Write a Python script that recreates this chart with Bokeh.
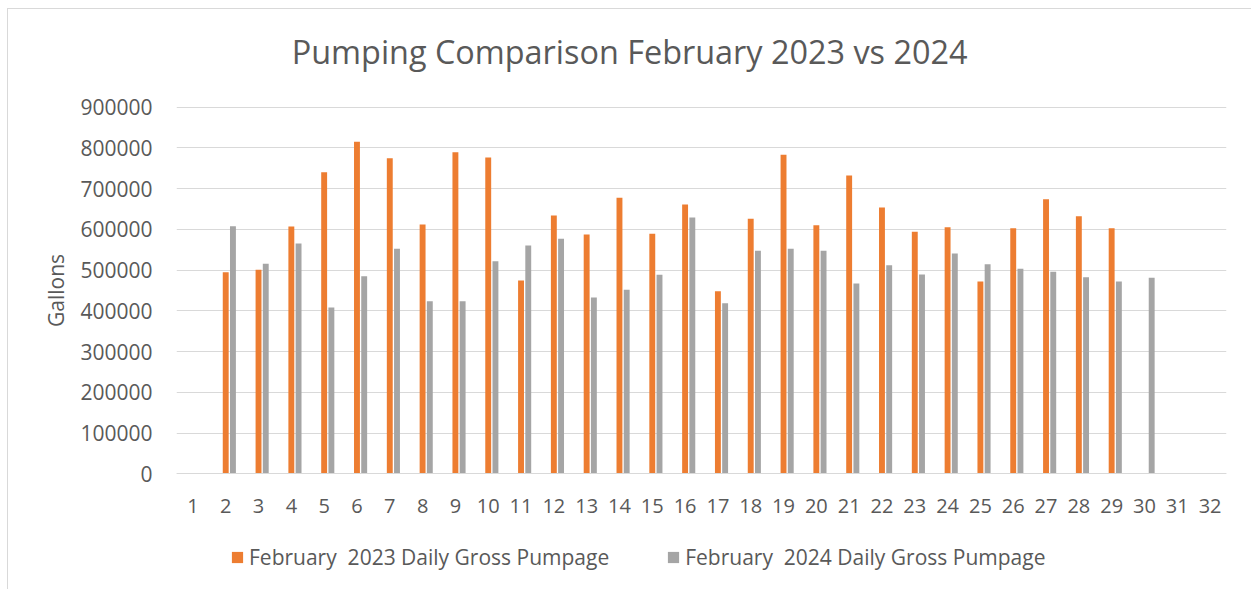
from bokeh.plotting import figure
from bokeh.models import (Range1d, FixedTicker, BasicTickFormatter, Label,
                          Legend, LegendItem, ColumnDataSource)
from bokeh.transform import dodge
from bokeh.embed import file_html
from bokeh.resources import INLINE

# ---------------- data ----------------
day_ticks = list(range(1, 33))
days_2023 = list(range(2, 30))
pump_2023 = [495000, 500700, 607000, 740500, 815000, 774800, 612000, 789500, 776500,
             474500, 634100, 587500, 677500, 589100, 661100, 448400, 625900, 783000,
             610400, 732300, 653700, 594000, 605500, 472100, 603000, 674200, 632500,
             603000]
days_2024 = list(range(2, 31))
pump_2024 = [608000, 515500, 565400, 408300, 485200, 552300, 423800, 423800, 522000,
             560500, 576800, 432800, 451600, 488500, 629200, 418900, 547400, 552300,
             547400, 467200, 512200, 489300, 540800, 514600, 503200, 495800, 482700,
             472100, 481100]
y_ticks = [0, 100000, 200000, 300000, 400000, 500000, 600000, 700000, 800000, 900000]

title_text = "Pumping Comparison February 2023 vs 2024"
label_2023 = "February  2023 Daily Gross Pumpage"
label_2024 = "February  2024 Daily Gross Pumpage"

ORANGE = "#ED7D31"
GRAY = "#A5A5A5"
TEXT = "#595959"
GRID = "#D9D9D9"
FONT = "Open Sans"

src23 = ColumnDataSource(dict(day=days_2023, value=pump_2023))
src24 = ColumnDataSource(dict(day=days_2024, value=pump_2024))

# frame spans the whole chart height so that title and legend sit inside it
p = figure(width=1244, height=581, output_backend="svg", toolbar_location=None,
           x_range=Range1d(0.5, 32.5), y_range=Range1d(-237400, 1137400),
           min_border_left=168, min_border_right=26, min_border_top=1,
           min_border_bottom=20)
p.styles = {"margin-left": "7px", "margin-top": "8px",
            "border-left": "1px solid #D9D9D9", "border-top": "1px solid #D9D9D9"}
p.outline_line_color = None
p.background_fill_color = "white"
p.border_fill_color = "white"

r23 = p.vbar(x=dodge("day", 0.0, range=p.x_range), top="value", width=0.18,
             source=src23, fill_color=ORANGE, line_color=None)
r24 = p.vbar(x=dodge("day", 0.22, range=p.x_range), top="value", width=0.18,
             source=src24, fill_color=GRAY, line_color=None)

# axes
p.xaxis.fixed_location = 0
p.xaxis.ticker = FixedTicker(ticks=day_ticks)
p.yaxis.ticker = FixedTicker(ticks=y_ticks)
p.yaxis.formatter = BasicTickFormatter(use_scientific=False)
for ax in (p.xaxis[0], p.yaxis[0]):
    ax.major_tick_line_color = None
    ax.minor_tick_line_color = None
    ax.major_label_text_font = FONT
    ax.major_label_text_color = TEXT
p.xaxis.major_label_text_font_size = "20px"
p.yaxis.major_label_text_font_size = "21px"
p.xaxis.axis_line_color = GRID
p.xaxis.axis_line_width = 1
p.yaxis.axis_line_color = None
p.xaxis.major_label_standoff = 19
p.yaxis.major_label_standoff = 18
p.yaxis.axis_label = "Gallons"
p.yaxis.axis_label_text_font = FONT
p.yaxis.axis_label_text_font_size = "21px"
p.yaxis.axis_label_text_font_style = "normal"
p.yaxis.axis_label_text_color = TEXT
p.yaxis.axis_label_standoff = 7

p.xgrid.visible = False
p.ygrid.grid_line_color = GRID
p.ygrid.grid_line_width = 1

# title, centred over the whole chart
p.add_layout(Label(x=14.31, y=1039000, text=title_text, text_font=FONT,
                   text_font_size="32.4px", text_color=TEXT, text_align="center",
                   text_baseline="middle"))

legend = Legend(items=[LegendItem(label=label_2023, renderers=[r23]),
                       LegendItem(label=label_2024, renderers=[r24])],
                orientation="horizontal", location=(54, -1),
                glyph_width=14, glyph_height=14, label_standoff=5, spacing=57,
                padding=0, margin=0, border_line_color=None,
                background_fill_alpha=0, label_text_font=FONT,
                label_text_font_size="21px", label_text_color=TEXT)
p.add_layout(legend)

open("out.html", "w").write(file_html(p, INLINE))
